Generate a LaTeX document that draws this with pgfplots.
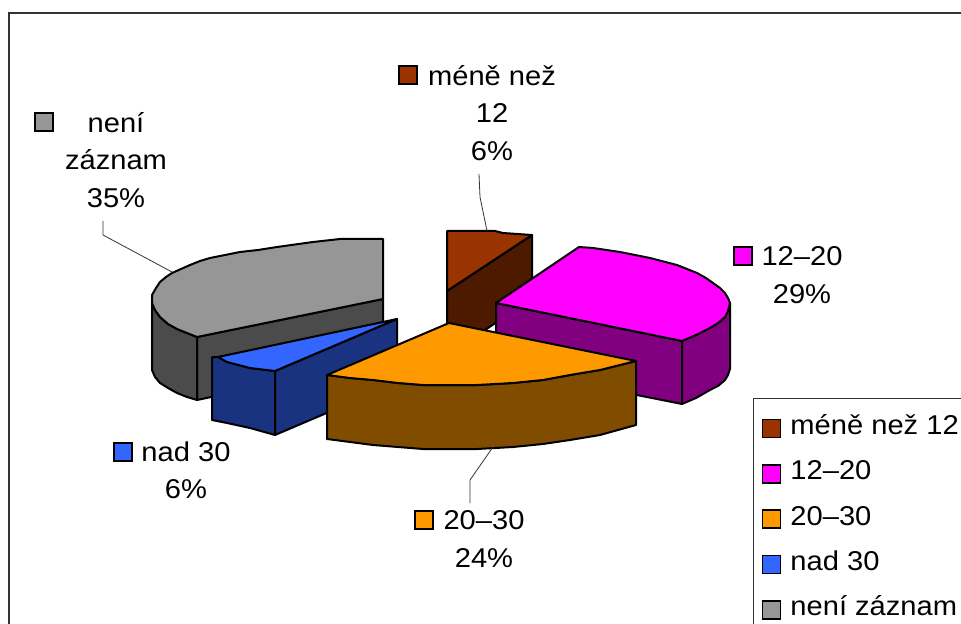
\documentclass[border=0pt]{standalone}
\usepackage{pgfplots}
\pgfplotsset{compat=1.18}
\usepackage{fontspec}
\setmainfont[FakeStretch=1.07]{Liberation Sans}
\definecolor{cBrown}{HTML}{993300}
\definecolor{cBrownD}{HTML}{4D1A00}
\definecolor{cMag}{HTML}{FF00FF}
\definecolor{cMagD}{HTML}{800080}
\definecolor{cOrange}{HTML}{FF9900}
\definecolor{cOrangeD}{HTML}{804D00}
\definecolor{cBlue}{HTML}{3366FF}
\definecolor{cBlueD}{HTML}{1A3380}
\definecolor{cGray}{HTML}{969696}
\definecolor{cGrayD}{HTML}{4B4B4B}
\pgfplotsset{
  face/.style={draw=black,line width=1.5pt,line join=round,mark=none,forget plot,fill=#1},
  leader/.style={draw=black!80,line width=0.6pt,mark=none,forget plot},
  key/.style={only marks,mark=square*,mark size=6.75pt,forget plot,
    mark options={draw=black,fill=#1,line width=1.2pt}},
}
\newcommand{\lab}{\fontsize{20.4}{28}\selectfont}
\begin{document}
\begin{tikzpicture}
\path[use as bounding box,clip] (0,0) rectangle (720.75pt,468pt);
\begin{axis}[
    at={(0,0)},anchor=south west,
    scale only axis,width=720.75pt,height=468pt,
    xmin=0,xmax=961,ymin=0,ymax=624,y dir=reverse,
    hide axis,clip=false,
    legend cell align=left,
    legend image code/.code={\draw[#1,line width=1.2pt] (0pt,-6.75pt) rectangle (13.5pt,6.75pt);},
    legend style={at={(axis cs:753,398)},anchor=north west,draw=black!80,line width=0.8pt,
      font=\lab,row sep=15pt,inner xsep=6pt,inner ysep=13pt,
      /tikz/every odd column/.append style={column sep=5pt},
      nodes={text height=14pt,text depth=5pt,inner ysep=0pt,inner xsep=2pt}},
]
% frame
\addplot[draw=black!80,line width=1pt,mark=none,forget plot] coordinates {(9,624) (9,13) (961,13)};

% gray slice
\addplot[face=cGrayD] coordinates {(197,337) (383,299) (383,361) (197,400)} --cycle;
\addplot[face=cGrayD] coordinates {(152,297) (155,310) (160,317) (168,324) (177,329) (187,333) (197,337) (197,400) (187,397) (177,393) (168,388) (160,383) (155,377) (152,370)} --cycle;
\addplot[face=cGray] coordinates {(383,239) (340,239) (313,242) (277,247) (258,250) (240,252) (225,255) (210,258) (200,261) (190,265) (181,269) (172,273) (166,277) (160,282) (156,288) (152,295) (152,303) (155,310) (160,317) (168,324) (177,329) (187,333) (197,337) (383,299)} --cycle;

% brown slice
\addplot[face=cBrownD] coordinates {(447,291) (532,235) (532,299) (447,355)} --cycle;
\addplot[face=cBrown] coordinates {(447,231) (495,231) (503,233) (532,235) (447,291)} --cycle;

% blue slice
\addplot[face=cBlueD] coordinates {(275,371) (397,319) (397,383) (275,435)} --cycle;
\addplot[face=cBlueD] coordinates {(212,357) (218,357) (227,362) (250,368) (275,371) (275,435) (250,428) (227,423) (212,420)} --cycle;
\addplot[face=cBlue] coordinates {(397,319) (218,357) (227,362) (250,368) (275,371)} --cycle;

% magenta slice
\addplot[face=cMagD] coordinates {(496,303) (682,341) (682,404) (496,367)} --cycle;
\addplot[face=cMagD] coordinates {(730,303) (730,369) (728,375) (725,380) (718,386) (710,390) (696,398) (682,404) (682,341) (696,335) (710,328) (718,323) (725,317) (728,311)} --cycle;
\addplot[face=cMag] coordinates {(579,247) (593,248) (620,252) (650,258) (677,265) (697,273) (706,278) (713,283) (720,288) (725,293) (728,298) (730,303) (728,311) (725,317) (718,323) (710,328) (696,335) (682,341) (496,303)} --cycle;

% orange slice
\addplot[face=cOrangeD] coordinates {(327,375) (350,378) (373,380) (398,383) (423,385) (477,385) (495,384) (513,383) (543,380) (570,375) (600,370) (636,361) (636,425) (600,435) (570,440) (543,444) (513,447) (495,448) (477,449) (423,449) (398,447) (373,445) (350,442) (327,439)} --cycle;
\addplot[face=cOrange] coordinates {(449,323) (636,361) (600,370) (570,375) (543,380) (513,383) (495,384) (477,385) (423,385) (398,383) (373,380) (350,378) (327,375)} --cycle;

% leader lines
\addplot[leader] coordinates {(479,174) (480,197) (487,231)};
\addplot[leader] coordinates {(103,221) (103,235) (172,272)};
\addplot[leader] coordinates {(493,447) (470,480) (470,503)};

% data label keys
\addplot[key=cGray] coordinates {(44,122)};
\addplot[key=cBrown] coordinates {(408,75)};
\addplot[key=cMag] coordinates {(743,256)};
\addplot[key=cOrange] coordinates {(424,520)};
\addplot[key=cBlue] coordinates {(123,452)};

% data labels
\node[align=center,font=\lab] at (axis cs:492,113) {méně než\\12\\6\%};
\node[align=center,font=\lab] at (axis cs:116,160) {není\\záznam\\35\%};
\node[align=center,font=\lab] at (axis cs:802,275) {12–20\\29\%};
\node[align=center,font=\lab] at (axis cs:186,470) {nad 30\\6\%};
\node[align=center,font=\lab] at (axis cs:484,539) {20–30\\24\%};

% legend
\addlegendimage{fill=cBrown,draw=black}
\addlegendentry{méně než 12}
\addlegendimage{fill=cMag,draw=black}
\addlegendentry{12–20}
\addlegendimage{fill=cOrange,draw=black}
\addlegendentry{20–30}
\addlegendimage{fill=cBlue,draw=black}
\addlegendentry{nad 30}
\addlegendimage{fill=cGray,draw=black}
\addlegendentry{není záznam}
\end{axis}
\end{tikzpicture}
\end{document}
